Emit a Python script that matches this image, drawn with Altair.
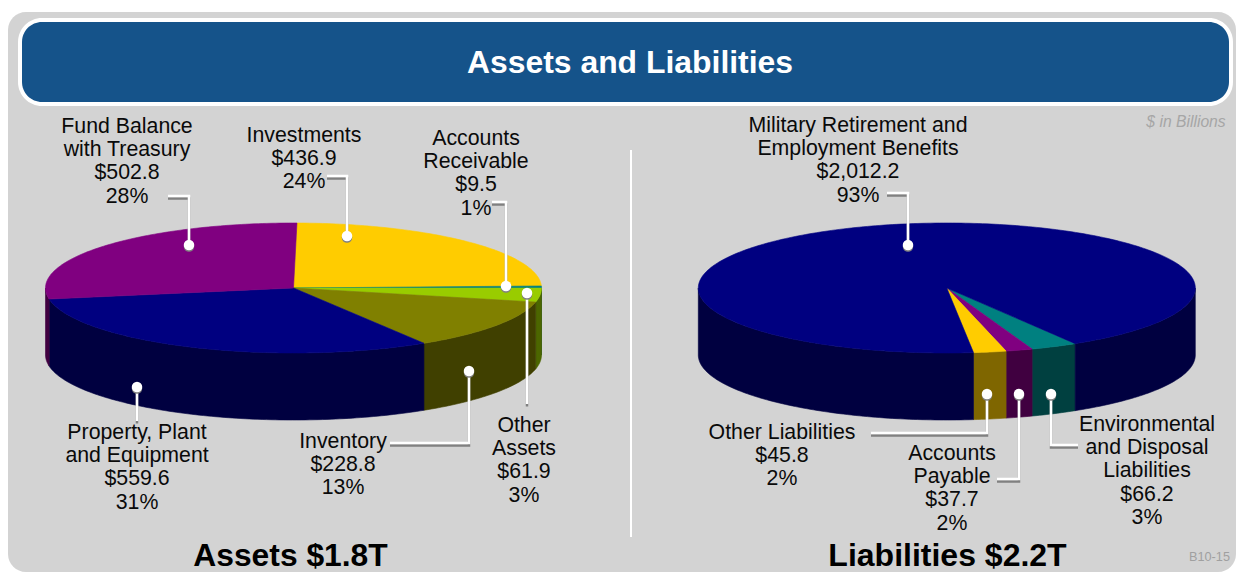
import math
import altair as alt
import pandas as pd

# ---- values ----
asset_names = ["Investments", "Accounts\nReceivable", "Other\nAssets", "Inventory",
               "Property, Plant\nand Equipment", "Fund Balance\nwith Treasury"]
asset_values = [436.9, 9.5, 61.9, 228.8, 559.6, 502.8]
asset_pcts = ["24%", "1%", "3%", "13%", "31%", "28%"]
asset_colors = ["#FFCC00", "#008080", "#99CC00", "#808000", "#000080", "#800080"]

liab_names = ["Environmental\nand Disposal\nLiabilities", "Accounts\nPayable", "Other Liabilities",
              "Military Retirement and\nEmployment Benefits"]
liab_values = [66.2, 37.7, 45.8, 2012.2]
liab_labels = ["$66.2", "$37.7", "$45.8", "$2,012.2"]
liab_pcts = ["3%", "2%", "2%", "93%"]
liab_colors = ["#008080", "#800080", "#FFCC00", "#000080"]

# ---- layout (image pixels) ----
W, H = 1228, 564
OX, OY = 8, 8
PANEL = "#D3D3D3"
BLUE = "#15538A"
FONT = "Liberation Sans"
RY, DEPTH = 65, 67

asset_pie = dict(cx=293.5, cy=288, rx=248, start=0.8)
liab_pie = dict(cx=946.8, cy=288, rx=248.5, start=148.9)

asset_text_pos = [(304, 125), (476, 128), (524, 415), (343, 431), (137, 422), (127, 116)]
liab_text_pos = [(1147, 414), (952, 443), (782, 422), (858, 115)]

asset_leaders = [
    [(327, 176), (347, 176), (347, 236)],
    [(492, 202), (506, 202), (506, 286)],
    [(527, 293), (527, 404)],
    [(390, 443), (469, 443), (469, 371)],
    [(137, 387), (137, 421)],
    [(168, 196), (189, 196), (189, 245)],
]
liab_leaders = [
    [(1051, 394), (1051, 445), (1078, 445)],
    [(997, 479), (1019, 479), (1019, 394)],
    [(871, 433), (987, 433), (987, 394)],
    [(887, 193), (908, 193), (908, 245)],
]


def darken(c):
    return "#%02X%02X%02X" % tuple(int(int(c[i:i + 2], 16) / 2) for i in (1, 3, 5))


def pt(p, t, dy=0.0):
    a = math.radians(t)
    return [p["cx"] + p["rx"] * math.sin(a), p["cy"] - RY * math.cos(a) + dy]


def arc(p, t0, t1, dy=0.0):
    n = max(2, int(abs(t1 - t0)) + 2)
    return [pt(p, t0 + (t1 - t0) * i / (n - 1), dy) for i in range(n)]


def feature(coords, color):
    return {"type": "Feature", "properties": {"color": color},
            "geometry": {"type": "Polygon", "coordinates": [coords + [coords[0]]]}}


def pie_features(values, colors, p):
    total = sum(values)
    walls, tops = [], []
    t = p["start"]
    for v, c in zip(values, colors):
        t1 = t + 360 * v / total
        tops.append(feature([[p["cx"], p["cy"]]] + arc(p, t, t1), c))
        for k in (0, 360):
            a, b = max(t, 90 + k), min(t1, 270 + k)
            if b > a:
                walls.append(feature(arc(p, a, b) + arc(p, b, a, DEPTH), darken(c)))
        t = t1
    return walls + tops


features = pie_features(asset_values, asset_colors, asset_pie) + \
    pie_features(liab_values, liab_colors, liab_pie)

PROJ = dict(type="identity", scale=1, translate=[-OX, -OY])

pies = alt.Chart(alt.Data(values=features)).mark_geoshape(strokeWidth=0.6).encode(
    fill=alt.Fill("properties.color:N", scale=None),
    stroke=alt.Stroke("properties.color:N", scale=None),
).project(**PROJ)


def line_features(leaders, dy=0):
    return [{"type": "Feature", "properties": {},
             "geometry": {"type": "LineString",
                          "coordinates": [[x, y + dy] for x, y in l]}} for l in leaders]


all_leaders = asset_leaders + liab_leaders
shadow = alt.Chart(alt.Data(values=line_features(all_leaders, 2.5))).mark_geoshape(
    filled=False, stroke="#808080", strokeWidth=2.5).project(**PROJ)
leaders = alt.Chart(alt.Data(values=line_features(all_leaders))).mark_geoshape(
    filled=False, stroke="#FFFFFF", strokeWidth=2.5).project(**PROJ)

ends = [l[-1] if l[-1][1] in (236, 286, 371, 245, 394) else l[0] for l in all_leaders]
dots = pd.DataFrame({"px": [e[0] - OX for e in ends], "py": [e[1] - OY for e in ends]})
dots["sy"] = dots["py"] + 1.5
X = alt.X("px:Q", scale=None, axis=None)
Y = alt.Y("py:Q", scale=None, axis=None)
dot_shadow = alt.Chart(dots).mark_circle(size=110, opacity=1, color="#808080").encode(
    x=X, y=alt.Y("sy:Q", scale=None, axis=None))
dot_white = alt.Chart(dots).mark_circle(size=110, opacity=1, color="#FFFFFF").encode(x=X, y=Y)

asset_labels = ["$%.1f" % v for v in asset_values]
blocks = [f"{n}\n{v}\n{c}" for n, v, c in zip(asset_names + liab_names,
                                               asset_labels + liab_labels,
                                               asset_pcts + liab_pcts)]
pos = asset_text_pos + liab_text_pos
labels = alt.Chart(pd.DataFrame({
    "t": blocks, "px": [p[0] - OX for p in pos], "py": [p[1] - OY for p in pos]
})).mark_text(font=FONT, fontSize=21.3, lineHeight=23.2, lineBreak="\n", align="center",
              baseline="top", color="#0A0A0A").encode(x=X, y=Y, text="t:N")


def box(x0, y0, x1, y1, r, color):
    return alt.Chart(pd.DataFrame({"a": [0]})).mark_rect(cornerRadius=r, color=color).encode(
        x=alt.value(x0 - OX), x2=alt.value(x1 - OX), y=alt.value(y0 - OY), y2=alt.value(y1 - OY))


def note(t, x, y, size, color="#000000", weight="normal", style="normal", align="center"):
    return alt.Chart(pd.DataFrame({"t": [t]})).mark_text(
        font=FONT, fontSize=size, color=color, fontWeight=weight, fontStyle=style, align=align,
        baseline="middle").encode(x=alt.value(x - OX), y=alt.value(y - OY), text="t:N")


divider = box(630, 150, 632, 537, 0, "#FFFFFF")

chart = alt.layer(
    box(8, 12, 1236, 572, 18, PANEL),
    box(18, 18, 1233, 106, 24, "#FFFFFF"),
    box(22, 22, 1229, 102, 20, BLUE),
    note("Assets and Liabilities", 630, 63, 31.9, "#FFFFFF", "bold"),
    note("$ in Billions", 1186, 122, 15.7, "#A6A6A6", style="italic"),
    note("B10-15", 1209.5, 557, 12.7, "#A0A0A0"),
    note("Assets $1.8T", 290.5, 555.5, 31.8, "#000000", "bold"),
    note("Liabilities $2.2T", 947.5, 555.5, 32, "#000000", "bold"),
    divider,
    pies,
    shadow,
    leaders,
    dot_shadow,
    dot_white,
    labels,
).properties(width=W, height=H, padding=0, autosize=alt.AutoSizeParams(type="none"),
             background="#FFFFFF").configure_view(stroke=None)

chart.save("out.html", embed_options={"renderer": "svg", "actions": False})
